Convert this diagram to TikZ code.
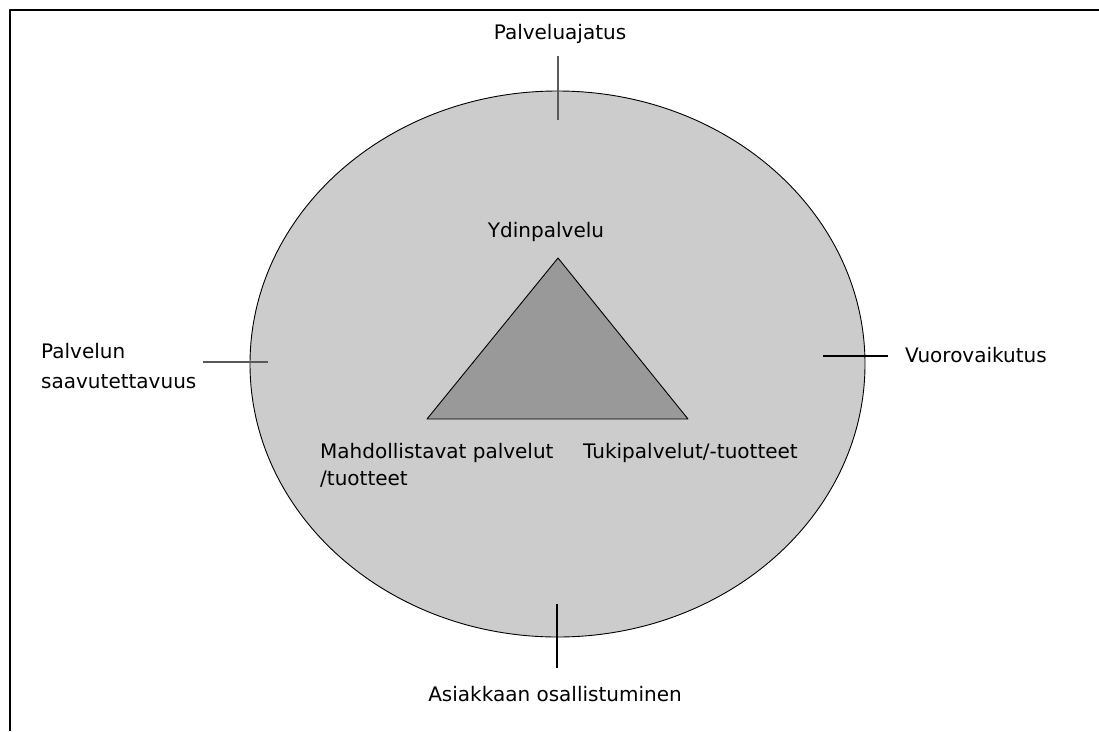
\documentclass[tikz,border=0pt]{standalone}
\usepackage{fontspec}
\setmainfont{DejaVu Sans}
\usepackage{xcolor}
\usetikzlibrary{positioning}
\tikzset{
  lbl/.style={font=\fontsize{20}{27}\selectfont,inner sep=0pt},
  spoke/.style={line width=1.2pt},
  every node/.style={lbl}
}

\begin{document}
\begin{tikzpicture}[x=1pt,y=-1pt,line cap=butt,line join=round]
  % ---- page window (image pixels, y downwards) ----
  \useasboundingbox (0,0) rectangle (1099,731);

  % ---- frame ----
  \draw[line width=2.2pt] (1099,10) -- (10,10) -- (10,731);

  % ---- outer oval ----
  \coordinate (O) at (557.5,364);
  \draw[fill=black!20,line width=0.9pt] (O) ellipse [x radius=307.5,y radius=273];

  % ---- core triangle ----
  \coordinate (T) at (558,258);
  \coordinate (L) at (427,419);
  \coordinate (R) at (688,419);
  \draw[fill=black!40,line width=0.9pt] (T) -- (R) -- (L) -- cycle;

  % ---- spokes across the oval ----
  \coordinate (n1) at (558,56);  \coordinate (n2) at (558,120);
  \coordinate (w1) at (203,362); \coordinate (w2) at (268,362);
  \coordinate (e1) at (823,356); \coordinate (e2) at (888,356);
  \coordinate (s1) at (557,604); \coordinate (s2) at (557,668);
  \draw[spoke,black!65] (n1) -- (n2);
  \draw[spoke,black!65] (w1) -- (w2);
  \draw[spoke] (e1) -- (e2);
  \draw[spoke] (s1) -- (s2);

  % ---- outer labels ----
  \node[anchor=base] (idea) at (560,39) {Palveluajatus};
  \node[anchor=base] (part) at (555,701) {Asiakkaan osallistuminen};
  \node[anchor=base west] (inter) at (905,362) {Vuorovaikutus};
  \node[anchor=base west,align=left,font=\fontsize{20}{30}\selectfont]
    (access) at (41,388) {Palvelun\\saavutettavuus};

  % ---- triangle labels ----
  \node[anchor=base] (core) at (546,237) {Ydinpalvelu};
  \node[anchor=base west,align=left] (enab) at (320,485)
    {Mahdollistavat palvelut\\/tuotteet};
  \node[anchor=base west] (supp) at (583,458) {Tukipalvelut/-tuotteet};
\end{tikzpicture}
\end{document}
